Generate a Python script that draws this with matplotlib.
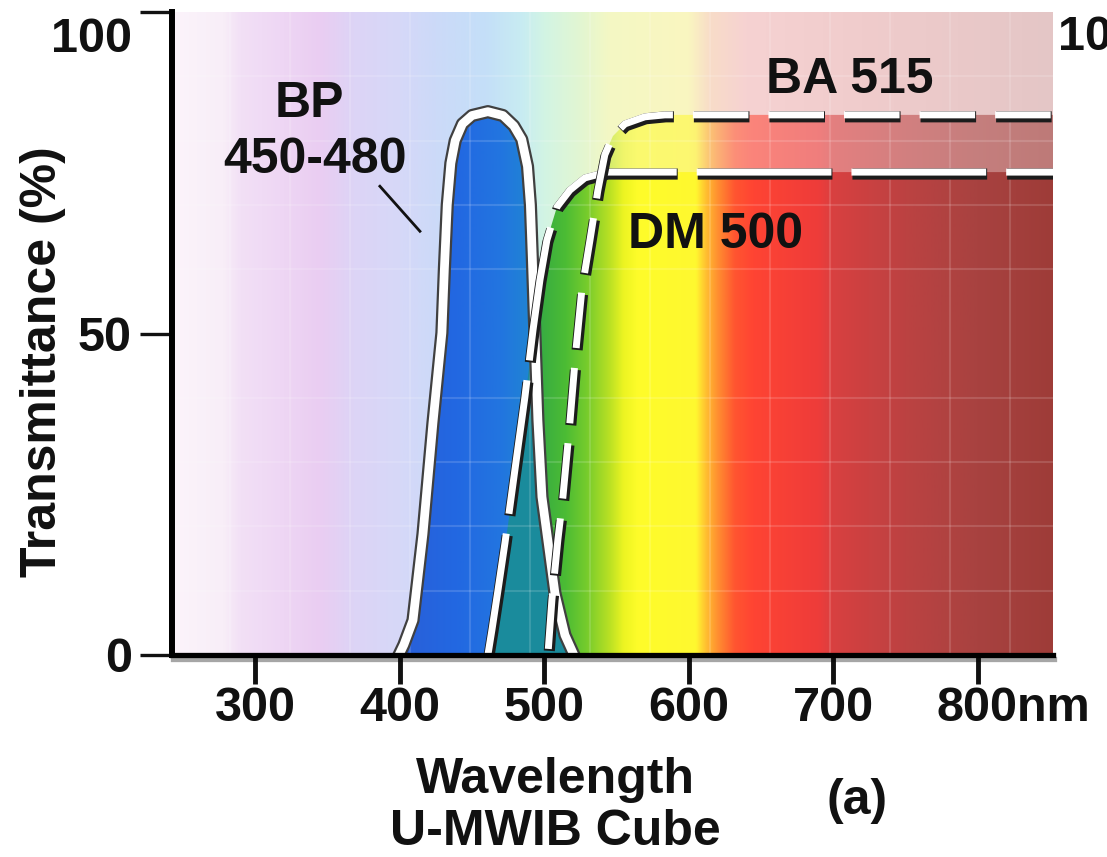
import numpy as np
import matplotlib
matplotlib.use("Agg")
import matplotlib.pyplot as plt
import matplotlib.patheffects as pe
import matplotlib.transforms as mtransforms
from matplotlib.patches import Polygon
from matplotlib.colors import to_rgb
from matplotlib.ticker import MultipleLocator

plt.rcParams['lines.scale_dashes'] = False
plt.rcParams['font.family'] = ['Liberation Sans', 'DejaVu Sans']
plt.rcParams['font.weight'] = 'bold'

# ---------------- data ----------------
bp_wavelength = [399.6, 403.0, 409.3, 416.2, 423.1, 429.3, 431.0, 433.0, 435.5, 438.5,
                 443.5, 450.1, 461.1, 471.5, 479.0, 484.5, 488.5, 490.5, 491.8,
                 493.6, 495.7, 498.5, 507.5, 514.4, 520.6]
bp_transmittance = [0.0, 1.6, 5.4, 18.8, 36.1, 50.1, 60.0, 70.0, 76.5, 80.0,
                    82.6, 83.9, 84.5, 83.9, 82.3, 80.2, 76.0, 70.0, 62.0,
                    50.1, 36.5, 24.6, 9.6, 3.1, 0.0]

dm_wavelength = [461.1, 463.9, 468.1, 472.9, 479.8, 486.7, 492.3, 497.1, 501.9,
                 508.9, 517.8, 528.2, 543.4, 860.0]
dm_transmittance = [0.0, 3.9, 10.1, 17.4, 28.8, 40.1, 50.5, 58.3, 64.5,
                    69.7, 72.3, 74.2, 75.1, 75.1]

ba_wavelength = [502.6, 505.4, 509.5, 513.0, 517.8, 522.0, 526.1, 531.7, 537.2,
                 542.0, 547.6, 555.9, 569.7, 583.5, 860.0]
ba_transmittance = [0.0, 8.6, 17.9, 24.6, 36.1, 47.4, 56.8, 64.5, 72.3,
                    77.8, 80.7, 82.6, 83.7, 84.0, 84.0]

x_ticks = [300, 400, 500, 600, 700, 800]
x_ticklabels = ['300', '400', '500', '600', '700', '800nm']
y_ticks = [0, 50, 100]
y_ticklabels = ['0', '50', '100']

pointer_wavelength = [386.4, 414.1]
pointer_transmittance = [72.9, 65.9]

# ---------------- colours (style) ----------------
pale_wl = [242, 278, 290, 320, 345, 368, 400, 425, 460, 485, 500, 525, 545, 600, 615, 640, 720, 853]
pale_colors = ['#fcf4fb', '#f8eef8', '#f2e0f6', '#eed6f4', '#eacdf2', '#ddd4f6', '#d6d8f8',
               '#ccdaf8', '#c4dff8', '#c8ecf2', '#d2f4e4', '#e2f6d2', '#f4f8c4', '#faf6c0',
               '#f8dcc8', '#f6d2d2', '#f0cccc', '#e4c6c6']
sat_wl = [460, 490, 500, 515, 530, 545, 555, 565, 605, 612, 620, 632, 645, 690, 700, 750, 800, 853]
sat_colors = ['#1a8b9c', '#2c9e5a', '#3aae40', '#4cbc34', '#78cc2c', '#b8e024', '#ecf422',
              '#fefc2a', '#fff830', '#ffc030', '#ff9030', '#ff5530', '#ff4433', '#ee3c3a',
              '#d84040', '#bc4242', '#a84240', '#9e3c38']
blue_wl = [400, 440, 470, 495, 525]
blue_colors = ['#2a5fd8', '#2268e2', '#2275e0', '#1f88d0', '#1f88d0']
teal = '#1a8b9c'

W, H = 1107, 857
xmin, xmax = 242.6, 852.0

fig = plt.figure(figsize=(W / 100, H / 100), dpi=100)
ax = fig.add_axes([172 / W, 1 - 655 / H, (1053 - 172) / W, (655 - 12) / H])

xs = np.linspace(xmin, xmax, 1500)


def ramp(wl, cols):
    rgb = np.array([to_rgb(c) for c in cols])
    return np.stack([np.interp(xs, wl, rgb[:, i]) for i in range(3)], axis=-1)


pale = ramp(pale_wl, pale_colors)
sat = ramp(sat_wl, sat_colors)
med = 0.55 * sat + 0.45 * pale
blue = ramp(blue_wl, blue_colors)
ext = (xmin, xmax, 0, 100)


def under(wl, tr):
    pts = np.column_stack([wl, tr])
    pts = np.vstack([pts, [wl[-1], 0.0]])
    return Polygon(pts, closed=True, transform=ax.transData, fc='none', ec='none')


ax.imshow(pale[None], extent=ext, aspect='auto', origin='lower',
          interpolation='bilinear', zorder=0.1)

im_ba = ax.imshow(med[None], extent=ext, aspect='auto', origin='lower',
                  interpolation='bilinear', zorder=0.2)
im_ba.set_clip_path(under(ba_wavelength, ba_transmittance))

im_dm = ax.imshow(sat[None], extent=ext, aspect='auto', origin='lower',
                  interpolation='bilinear', zorder=0.3)
im_dm.set_clip_path(under(dm_wavelength, dm_transmittance))

im_bp = ax.imshow(blue[None], extent=ext, aspect='auto', origin='lower',
                  interpolation='bilinear', zorder=0.4)
im_bp.set_clip_path(under(bp_wavelength, bp_transmittance))

ov_x = np.linspace(dm_wavelength[0], bp_wavelength[-1], 400)
ov_y = np.minimum(np.interp(ov_x, bp_wavelength, bp_transmittance),
                  np.interp(ov_x, dm_wavelength, dm_transmittance))
ax.fill_between(ov_x, 0, ov_y, color=teal, lw=0, zorder=0.45)

# curves
ax.plot(bp_wavelength, bp_transmittance, color='white', lw=6.3,
        solid_joinstyle='round', zorder=3,
        path_effects=[pe.Stroke(linewidth=9.5, foreground='#404040'), pe.Normal()])
dash_fx = [pe.Stroke(linewidth=8, foreground='#1c1c1c', offset=(0.7, -1.4)), pe.Normal()]
ax.plot(dm_wavelength, dm_transmittance, color='white', lw=5,
        linestyle=(8.6, (97, 14.4)), dash_capstyle='butt', dash_joinstyle='round',
        zorder=3.2, path_effects=dash_fx)
ax.plot(ba_wavelength, ba_transmittance, color='white', lw=5,
        linestyle=(50, (40, 14.4)), dash_capstyle='butt', dash_joinstyle='round',
        zorder=3.4, path_effects=dash_fx)
ax.plot(pointer_wavelength, pointer_transmittance, color='#111111', lw=2, zorder=3)

ax.set_xlim(xmin, xmax)
ax.set_ylim(0, 100)

# faint background grid
ax.xaxis.set_minor_locator(MultipleLocator(41.5, offset=34.0))
ax.yaxis.set_minor_locator(MultipleLocator(10))
ax.grid(which='minor', color='white', alpha=0.14, lw=1.5)
ax.grid(which='major', visible=False)
ax.set_axisbelow('line')

# ticks
ax.set_xticks(x_ticks)
ax.set_xticklabels(x_ticklabels)
ax.set_yticks(y_ticks)
ax.set_yticklabels(y_ticklabels)
ax.tick_params(axis='x', which='major', direction='out', length=21, width=3.5,
               pad=1, labelsize=35, colors='#111111')
ax.tick_params(axis='y', which='major', direction='out', length=23, width=2.4,
               pad=6, labelsize=35, colors='#111111')
ax.tick_params(which='minor', length=0)

lab800 = ax.get_xticklabels()[-1]
lab800.set_transform(lab800.get_transform() +
                     mtransforms.ScaledTranslation(36 / 100, 0, fig.dpi_scale_trans))
lab100 = ax.get_yticklabels()[-1]
lab100.set_transform(lab100.get_transform() +
                     mtransforms.ScaledTranslation(0, -22 / 100, fig.dpi_scale_trans))

for s in ['top', 'right']:
    ax.spines[s].set_visible(False)
ax.spines['left'].set_linewidth(4.3)
ax.spines['bottom'].set_linewidth(3.8)
ax.spines['left'].set_zorder(5)
ax.spines['bottom'].set_zorder(5)
ax.spines['bottom'].set_path_effects(
    [pe.SimpleLineShadow(offset=(1, -3), shadow_color='k', alpha=0.35), pe.Normal()])

# labels inside the plot
tk = dict(fontsize=36, fontweight='bold', color='#111111', ha='center', va='baseline', zorder=6)
ax.text(337.3, 83.7, 'BP', **tk)
ax.text(341.5, 75.0, '450-480', **tk)
ax.text(711.5, 87.4, 'BA 515', **tk)
ax.text(618.8, 63.3, 'DM 500', **tk)

# axis titles and panel label
ft = dict(fontsize=36, fontweight='bold', color='#111111')
fig.text(43 / W, 1 - 362 / H, 'Transmittance (%)', rotation=90, ha='center', va='center', **ft)
fig.text(555 / W, 1 - 793 / H, 'Wavelength', ha='center', va='baseline', **ft)
fig.text(555 / W, 1 - 845 / H, 'U-MWIB Cube', ha='center', va='baseline', **ft)
fig.text(857 / W, 1 - 814 / H, '(a)', ha='center', va='baseline', **ft)
fig.text(1058 / W, 1 - 50 / H, '100', ha='left', va='baseline', fontsize=35,
         fontweight='bold', color='#111111')

fig.savefig('out.png', dpi=100)
